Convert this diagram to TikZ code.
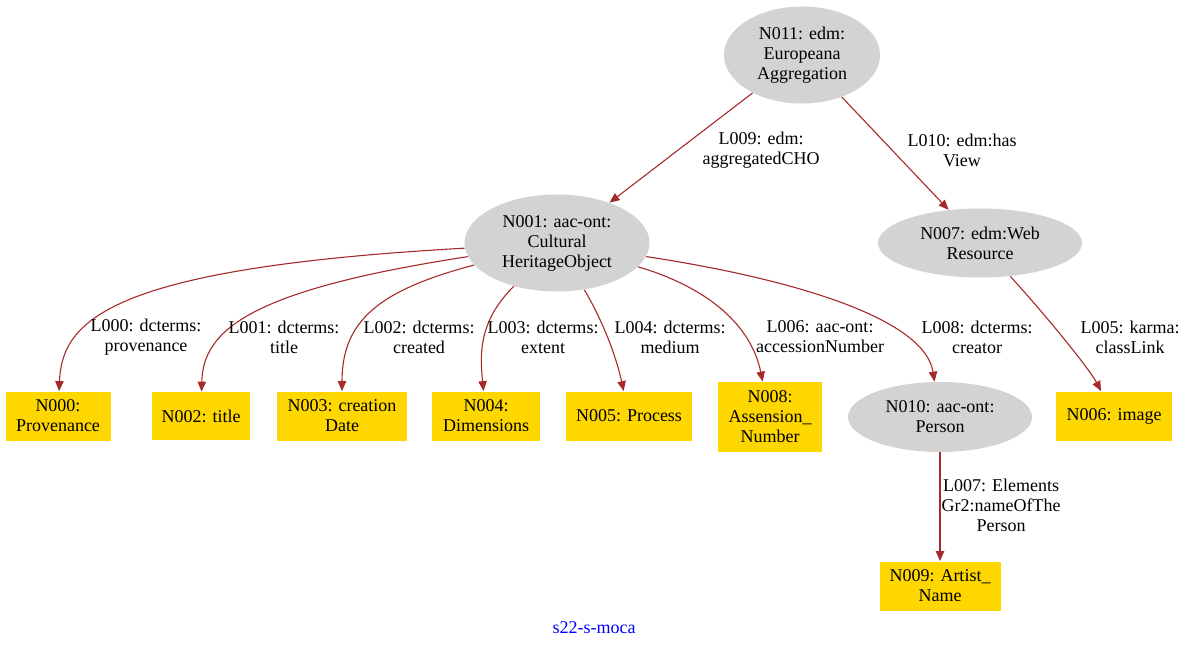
\documentclass[tikz,border=0pt]{standalone}
\usepackage{fontspec}
\setmainfont{Liberation Serif}
\usetikzlibrary{shapes.geometric, arrows.meta}
\definecolor{nodegray}{HTML}{D3D3D3}
\definecolor{litgold}{HTML}{FFD700}
\definecolor{linkbrown}{HTML}{A52A2A}
\tikzset{
  obj/.style={ellipse, fill=nodegray, inner sep=0pt, align=center, font=\fontsize{9}{10}\selectfont},
  lit/.style={rectangle, fill=litgold, inner sep=0pt, align=center, font=\fontsize{9}{10}\selectfont},
  link/.style={draw=linkbrown, line width=0.55pt, -{Triangle[length=5pt, width=4.2pt]}},
  lbl/.style={align=center, inner sep=0pt, font=\fontsize{9}{10}\selectfont}
}
\begin{document}
\begin{tikzpicture}[x=0.5pt, y=-0.5pt]
\useasboundingbox (0,0) rectangle (1187,648);

% class nodes
\node[obj, minimum width=78pt, minimum height=48.5pt] (n011) at (802,55) {N011: edm:\\Europeana\\Aggregation};
\node[obj, minimum width=92.5pt, minimum height=48.5pt] (n001) at (557,243) {N001: aac-ont:\\Cultural\\HeritageObject};
\node[obj, minimum width=102pt, minimum height=34.5pt] (n007) at (980,243) {N007: edm:Web\\Resource};
\node[obj, minimum width=92pt, minimum height=35pt] (n010) at (940,417) {N010: aac-ont:\\Person};

% literal nodes
\node[lit, minimum width=52.5pt, minimum height=24.5pt] (n000) at (58,416) {N000:\\Provenance};
\node[lit, minimum width=49pt, minimum height=24pt] (n002) at (201,416) {N002: title};
\node[lit, minimum width=65pt, minimum height=24.5pt] (n003) at (342,416) {N003: creation\\Date};
\node[lit, minimum width=54pt, minimum height=24.5pt] (n004) at (486,416) {N004:\\Dimensions};
\node[lit, minimum width=63pt, minimum height=24.5pt] (n005) at (629,416) {N005: Process};
\node[lit, minimum width=52pt, minimum height=35pt] (n008) at (770,417) {N008:\\Assension\_\\Number};
\node[lit, minimum width=58pt, minimum height=24.5pt] (n006) at (1114,416) {N006: image};
\node[lit, minimum width=60.5pt, minimum height=24.5pt] (n009) at (940,586) {N009: Artist\_\\Name};

% links
\draw[link] (n011) -- (n001);
\draw[link] (n011) -- (n007);
\draw[link] (n001) .. controls (110,268) and (62,320) .. (n000);
\draw[link] (n001) .. controls (250,290) and (203,330) .. (n002);
\draw[link] (n001) .. controls (380,290) and (342,320) .. (n003);
\draw[link] (n001) .. controls (478,322) and (480,355) .. (n004);
\draw[link] (n001) .. controls (605,325) and (617,360) .. (n005);
\draw[link] (n001) .. controls (700,285) and (750,320) .. (n008);
\draw[link] (n001) .. controls (800,280) and (925,320) .. (n010);
\draw[link] (n007) .. controls (1050,320) and (1090,370) .. (n006);
\draw[link] (n010) -- (n009);

% link labels
\node[lbl] (l009) at (761,150) {L009: edm:\\aggregatedCHO};
\node[lbl] (l010) at (962,150) {L010: edm:has\\View};
\node[lbl] (l000) at (146,337) {L000: dcterms:\\provenance};
\node[lbl] (l001) at (284,337) {L001: dcterms:\\title};
\node[lbl] (l002) at (419,337) {L002: dcterms:\\created};
\node[lbl] (l003) at (543,337) {L003: dcterms:\\extent};
\node[lbl] (l004) at (670,337) {L004: dcterms:\\medium};
\node[lbl] (l006) at (820,337) {L006: aac-ont:\\accessionNumber};
\node[lbl] (l008) at (977,337) {L008: dcterms:\\creator};
\node[lbl] (l005) at (1130,337) {L005: karma:\\classLink};
\node[lbl] (l007) at (1001,505) {L007: Elements\\Gr2:nameOfThe\\Person};

% caption
\node[lbl, text=blue] (title) at (594,628) {s22-s-moca};
\end{tikzpicture}
\end{document}
